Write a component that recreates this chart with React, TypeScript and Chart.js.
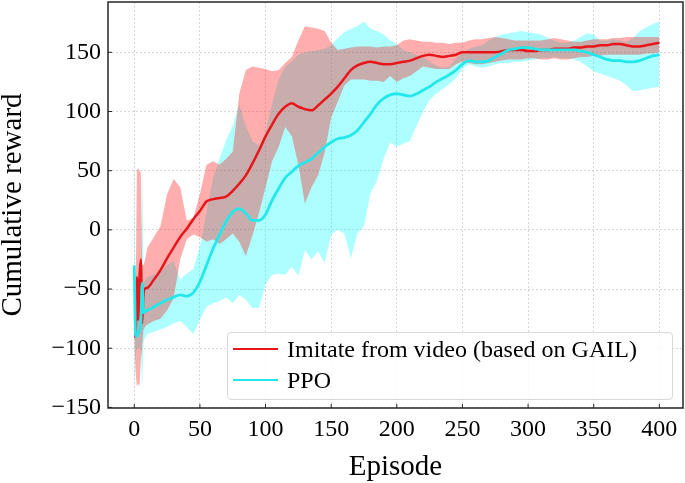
import React, { useEffect, useRef } from "react";
import { Chart, registerables } from "chart.js";

Chart.register(...registerables);

const seriesNames = ["Imitate from video (based on GAIL)", "PPO"];
const lineColors = ["#e8161b", "#22e8ec"];
const bandColors = ["rgba(255, 0, 0, 0.32)", "rgba(0, 255, 255, 0.32)"];

const xTicks = [0, 50, 100, 150, 200, 250, 300, 350, 400];
const yTicks = [-150, -100, -50, 0, 50, 100, 150];

// episodes: dense at the start, then every 5
const episodes = [
  0, 1, 2, 3, 4, 5, 6, 7, 8,
  10, 15, 20, 25, 30, 35, 40, 45, 50, 55,
  60, 65, 70, 75, 80, 85, 90, 95, 100, 105,
  110, 115, 120, 125, 130, 135, 140, 145, 150, 155,
  160, 165, 170, 175, 180, 185, 190, 195, 200, 205,
  210, 215, 220, 225, 230, 235, 240, 245, 250, 255,
  260, 265, 270, 275, 280, 285, 290, 295, 300, 305,
  310, 315, 320, 325, 330, 335, 340, 345, 350, 355,
  360, 365, 370, 375, 380, 385, 390, 395, 400,
];

const gailMean = [
  -90, -90, -40, -76, -40, -25, -79, -55, -50,
  -49, -42, -34, -24, -15, -6, 1, 9, 16, 24,
  26, 27, 28, 33, 39, 46, 56, 67, 79, 89,
  98, 104, 107, 104, 102, 101, 105, 110, 115, 121,
  128, 135, 139, 141, 142, 141, 140, 140, 141, 142,
  143, 145, 147, 148, 147, 146, 147, 148, 150, 150,
  150, 150, 150, 150, 151, 152, 152, 152, 151, 151,
  152, 152, 153, 153, 153, 154, 154, 155, 155, 156,
  156, 157, 157, 156, 155, 155, 156, 157, 158,
];

const gailUpper = [
  -88, -60, 50, 52, 50, 48, -30, -30, -26,
  -15, -6, 3, 30, 43, 36, 8, 10, 30, 55,
  58, 55, 60, 66, 115, 135, 138, 137, 136, 134,
  135, 141, 146, 160, 172, 171, 170, 168, 158, 152,
  153, 154, 155, 155, 155, 154, 155, 155, 156, 160,
  161, 160, 159, 159, 158, 158, 157, 158, 158, 160,
  161, 161, 162, 163, 162, 161, 160, 160, 160, 160,
  160, 161, 162, 161, 160, 159, 159, 160, 161, 161,
  161, 162, 162, 163, 163, 163, 163, 163, 163,
];

const gailLower = [
  -92, -120, -132, -130, -132, -110, -100, -85, -82,
  -80, -77, -75, -68, -58, -25, -8, -4, -6, -10,
  -8, -12, -8, -3, -10, -22, -5, 14, 36, 58,
  70, 87, 79, 55, 22, 36, 46, 65, 95, 108,
  122, 127, 127, 127, 126, 126, 125, 130, 125, 128,
  130, 134, 138, 137, 136, 136, 136, 140, 142, 141,
  140, 140, 141, 142, 143, 144, 144, 144, 145, 145,
  144, 144, 145, 144, 144, 145, 146, 146, 147, 147,
  148, 148, 148, 148, 148, 148, 149, 149, 150,
];

const ppoMean = [
  -30, -88, -90, -88, -85, -80, -45, -70, -69,
  -68, -65, -62, -59, -57, -55, -56, -53, -44, -30,
  -16, -4, 7, 15, 18, 14, 8, 8, 13, 25,
  35, 44, 49, 54, 57, 60, 65, 70, 74, 77,
  78, 80, 84, 91, 98, 106, 111, 114, 115, 114,
  113, 115, 118, 121, 125, 128, 131, 135, 140, 143,
  142, 142, 143, 146, 149, 152, 153, 154, 154, 153,
  152, 152, 152, 152, 152, 152, 151, 150, 148, 146,
  144, 143, 143, 142, 142, 143, 145, 147, 148,
];

const ppoUpper = [
  76, -70, -75, -75, -70, -60, 56, -45, -43,
  -40, -38, -36, -30, -26, -42, -37, -33, -14, 15,
  44, 60, 76, 88, 106, 88, 75, 71, 82, 107,
  127, 138, 142, 148, 150, 151, 152, 153, 156, 162,
  167, 170, 172, 176, 170, 168, 165, 160, 157, 152,
  150, 148, 146, 142, 139, 137, 138, 145, 150, 153,
  155, 156, 160, 163, 165, 166, 167, 168, 167, 166,
  165, 162, 160, 158, 158, 160, 163, 166, 165, 160,
  160, 161, 160, 159, 162, 168, 171, 174, 176,
];

const ppoLower = [
  -136, -105, -100, -100, -100, -100, -136, -95, -92,
  -88, -86, -84, -82, -79, -77, -82, -88, -76, -65,
  -62, -60, -57, -62, -55, -59, -66, -66, -46, -38,
  -37, -38, -31, -39, -17, -25, -18, -28, -4, 0,
  -3, -24, -3, 3, 31, 42, 60, 74, 70, 73,
  75, 88, 100, 110, 115, 119, 123, 128, 136, 140,
  138, 137, 138, 140, 141, 141, 142, 142, 143, 144,
  145, 145, 146, 145, 145, 144, 142, 138, 134, 132,
  130, 128, 126, 122, 117, 118, 119, 120, 121,
];

const points = (values: number[]) =>
  episodes.map((x, i) => ({ x, y: values[i] }));

const formatTick = (value: number | string) => {
  const v = Number(value);
  return v < 0 ? "\u2212" + Math.abs(v) : String(v);
};

const FONT = "'Liberation Serif', 'Times New Roman', serif";

// frame on all four sides plus inward ticks on left and bottom
const framePlugin = {
  id: "frame",
  afterDraw(chart: any) {
    const { ctx, chartArea: a, scales } = chart;
    ctx.save();
    ctx.strokeStyle = "#262626";
    ctx.lineWidth = 1.5;
    ctx.strokeRect(a.left, a.top, a.right - a.left, a.bottom - a.top);
    ctx.lineWidth = 1;
    ctx.beginPath();
    yTicks.forEach((v) => {
      const y = scales.y.getPixelForValue(v);
      ctx.moveTo(a.left, y);
      ctx.lineTo(a.left + 4, y);
    });
    xTicks.forEach((v) => {
      const x = scales.x.getPixelForValue(v);
      ctx.moveTo(x, a.bottom);
      ctx.lineTo(x, a.bottom - 4);
    });
    ctx.stroke();
    ctx.restore();
  },
};

const band = (data: number[], extra: any) => ({
  data: points(data),
  borderWidth: 0,
  pointRadius: 0,
  pointHitRadius: 0,
  tension: 0,
  ...extra,
});

const App: React.FC = () => {
  const canvasRef = useRef<HTMLCanvasElement>(null);
  const chartRef = useRef<Chart | null>(null);

  useEffect(() => {
    if (!canvasRef.current) return;
    if (chartRef.current) chartRef.current.destroy();

    Chart.defaults.font.family = FONT;
    Chart.defaults.color = "#000";

    chartRef.current = new Chart(canvasRef.current, {
      type: "line",
      data: {
        datasets: [
          band(ppoLower, { fill: false, order: 5 }),
          band(ppoUpper, { fill: "-1", backgroundColor: bandColors[1], order: 4 }),
          band(gailLower, { fill: false, order: 3 }),
          band(gailUpper, { fill: "-1", backgroundColor: bandColors[0], order: 2 }),
          {
            label: seriesNames[0],
            data: points(gailMean),
            borderColor: lineColors[0],
            borderWidth: 2.5,
            pointRadius: 0,
            cubicInterpolationMode: "monotone",
            fill: false,
            order: 1,
          },
          {
            label: seriesNames[1],
            data: points(ppoMean),
            borderColor: lineColors[1],
            borderWidth: 2.8,
            pointRadius: 0,
            cubicInterpolationMode: "monotone",
            fill: false,
            order: 0,
          },
        ],
      },
      options: {
        animation: false,
        responsive: false,
        maintainAspectRatio: false,
        layout: { padding: { top: 2, right: 2, left: 0, bottom: 0 } },
        plugins: {
          legend: { display: false },
          tooltip: { enabled: false },
        },
        scales: {
          x: {
            type: "linear",
            min: -20,
            max: 418,
            afterBuildTicks: (axis: any) => {
              axis.ticks = xTicks.map((value) => ({ value }));
            },
            afterFit: (axis: any) => {
              axis.height = 75;
              axis.paddingLeft = 0;
              axis.paddingRight = 0;
            },
            grid: { color: "#cccccc", lineWidth: 0.8, drawTicks: false },
            border: { display: false, dash: [2, 2] },
            ticks: {
              font: { size: 24 },
              color: "#000",
              padding: 7,
              maxRotation: 0,
              autoSkip: false,
              callback: formatTick,
            },
            title: {
              display: true,
              text: "Episode",
              color: "#000",
              font: { size: 29, lineHeight: 1 },
              padding: { top: 0, bottom: 1 },
            },
          },
          y: {
            type: "linear",
            min: -150.5,
            max: 192.5,
            afterBuildTicks: (axis: any) => {
              axis.ticks = yTicks.map((value) => ({ value }));
            },
            afterFit: (axis: any) => {
              axis.width = 108;
              axis.paddingTop = 0;
              axis.paddingBottom = 0;
            },
            grid: { color: "#cccccc", lineWidth: 0.8, drawTicks: false },
            border: { display: false, dash: [2, 2] },
            ticks: {
              font: { size: 24 },
              color: "#000",
              padding: 7,
              autoSkip: false,
              callback: formatTick,
            },
            title: {
              display: true,
              text: "Cumulative reward",
              color: "#000",
              font: { size: 29, lineHeight: 1 },
              padding: { top: -1, bottom: 0 },
            },
          },
        },
      },
      plugins: [framePlugin],
    });

    return () => {
      if (chartRef.current) {
        chartRef.current.destroy();
        chartRef.current = null;
      }
    };
  }, []);

  return (
    <div style={{ position: "absolute", left: 0, top: 0, width: 685, height: 483 }}>
      <canvas ref={canvasRef} width={685} height={483} style={{ display: "block" }} />

      {/* legend box in the lower right of the plot */}
      <div
        style={{
          position: "absolute",
          left: 227,
          top: 332,
          width: 446,
          height: 68,
          boxSizing: "border-box",
          border: "1px solid #d9d9d9",
          borderRadius: 4,
          background: "rgba(255, 255, 255, 0.8)",
        }}
      >
        {seriesNames.map((name, i) => (
          <div
            key={name}
            style={{
              position: "absolute",
              left: 5,
              top: 0.5 + i * 31,
              height: 31,
              display: "flex",
              alignItems: "center",
              whiteSpace: "nowrap",
              fontFamily: FONT,
              fontSize: 24,
              lineHeight: "31px",
              color: "#000",
            }}
          >
            <span
              style={{
                display: "inline-block",
                width: 45,
                height: 2.5,
                background: lineColors[i],
                marginRight: 9,
              }}
            />
            {name}
          </div>
        ))}
      </div>
    </div>
  );
};

export default App;
